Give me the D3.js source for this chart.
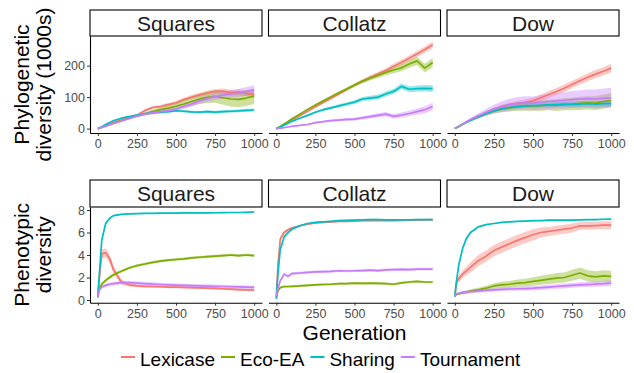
<!DOCTYPE html>
<html>
<head>
<meta charset="utf-8">
<script src="https://cdn.jsdelivr.net/npm/d3@7"></script>
<style>
  body { margin: 0; background: #fff; }
  text { font-family: "Liberation Sans", Arial, sans-serif; }
</style>
</head>
<body>
<div id="chart"></div>
<script>
// generations sampled (shared by every series)
const gens = [0,10,25,50,75,100,150,200,250,300,350,400,450,500,550,600,650,700,750,800,850,900,950,1000];
const methods = ["Lexicase", "Eco-EA", "Sharing", "Tournament"];
const problems = ["Squares", "Collatz", "Dow"];
const colors = ["#F8766D", "#7CAE00", "#00BFC4", "#C77CFF"];
const genTicks = [0, 250, 500, 750, 1000];
const phyloTicks = [0, 100, 200];
const phenoTicks = [0, 2, 4, 6, 8];

// Phylogenetic diversity (1000s), rows in methods order
const squaresPhyloMean = [
  [0,1.5,4,9,14,19,28,35,42,57,67,70,76,82,92,100,107,113,118,119,114,116,112,108],
  [0,1.5,4,8,12,16,25,33,40,47,54,60,65,71,78,86,94,99,102,98,94,93,97,103],
  [0,2,6,13,19,25,33,38,43,47,50,52,54,57,55,53,52,54,52,54,55,56,58,59],
  [0,1.5,4,8,12,16,24,32,40,46,50,54,57,62,70,78,88,95,102,106,110,113,118,123]
];
const squaresPhyloSE = [
  [0,0.5,1,1.5,2,2.5,3,3.5,4,4.5,5,5,5.5,6,6,7,7,8,8,8,9,9,9,10],
  [0,0.5,1,1.5,2,2.5,3,4,4,5,6,7,8,10,12,14,16,18,20,22,24,25,25,25],
  [0,0.3,0.8,1.2,1.5,2,2.5,3,3,3.5,3.5,4,4,4,4,4,4,4,4.5,4.5,4.5,4.5,5,5],
  [0,0.5,1,1.5,2,2.5,3,4,4.5,5,5.5,6,7,7,8,9,10,10,11,11,12,13,14,15]
];
const collatzPhyloMean = [
  [0,2,6,13,20,27,41,55,69,83,96,110,124,138,150,162,173,184,198,210,223,237,251,266],
  [0,2.5,7,15,23,31,46,61,75,88,101,114,126,138,150,160,169,178,186,193,205,215,192,210],
  [0,1.5,5,11,17,23,33,42,52,60,66,72,78,84,94,97,100,110,118,134,125,127,128,127],
  [0,0.5,1.5,3,5,7,10,13,19,22,25,27,29,30,34,38,42,46,39,43,48,54,60,70]
];
const collatzPhyloSE = [
  [0,0.3,0.6,1,1.3,1.6,2,2.5,3,3.5,4,4.5,5,5.5,6,6.5,7,7.5,8,8.5,9,9.5,10,10.5],
  [0,0.3,0.6,1,1.3,1.6,2,2.5,3,3.5,4,4.5,5,5.5,6,7,8,9,10,11,12,13,14,15],
  [0,0.3,0.6,1,1.5,2,2.5,3,3.5,4,4.5,5,5.5,6,6.5,7,7.5,8,8.5,9,9.5,10,10.5,11],
  [0,0.2,0.4,0.8,1,1.3,1.8,2.2,2.6,3,3.5,4,4.5,5,5.5,6,6.5,7,7.5,8,9,10,11,12]
];
const dowPhyloMean = [
  [0,3,7,14,21,28,40,52,62,70,76,80,83,88,98,108,118,128,140,152,163,173,182,192],
  [0,3,7,14,20,26,37,47,56,62,66,70,71,72,73,75,74,77,78,80,82,81,86,90],
  [0,3,7,14,20,26,37,47,56,63,67,70,72,73,74,75,76,77,77,78,79,78,79,80],
  [0,3,7.5,15,22,29,41,52,62,70,76,80,82,80,84,86,88,90,92,94,95,94,96,98]
];
const dowPhyloSE = [
  [0,0.5,1,1.5,2,2.5,3,4,5,6,7,8,9,10,10,11,11,12,12,12,13,13,13,14],
  [0,0.5,1,1.5,2,3,4,6,8,10,12,13,14,15,16,17,18,19,20,21,21,22,22,22],
  [0,0.5,1,1.5,2,2.5,3,4,4.5,5,5.5,6,6.5,7,7,7.5,7.5,8,8,8.5,8.5,9,9,9],
  [0,0.5,1,2,3,5,8,11,14,17,19,20,21,22,23,24,25,26,27,28,29,30,31,32]
];

// Phenotypic diversity, rows in methods order
const squaresPhenoMean = [
  [0.2,2.0,4.1,4.2,3.7,2.7,1.6,1.35,1.25,1.22,1.2,1.18,1.15,1.15,1.12,1.1,1.08,1.05,1.03,1.0,0.97,0.93,0.9,0.87],
  [0.3,1.0,1.4,1.75,2.0,2.25,2.55,2.85,3.05,3.2,3.35,3.45,3.55,3.6,3.65,3.75,3.8,3.85,3.9,3.95,4.0,3.95,4.0,3.95],
  [0.3,2.3,5.3,6.8,7.25,7.5,7.62,7.66,7.68,7.7,7.7,7.72,7.72,7.73,7.74,7.74,7.75,7.75,7.76,7.77,7.78,7.78,7.8,7.83],
  [0.3,0.9,1.15,1.3,1.4,1.45,1.55,1.55,1.5,1.45,1.42,1.38,1.35,1.32,1.3,1.28,1.26,1.24,1.22,1.2,1.18,1.16,1.15,1.12]
];
const squaresPhenoSE = [
  [0.05,0.3,0.4,0.4,0.4,0.35,0.25,0.15,0.12,0.1,0.1,0.1,0.1,0.1,0.1,0.1,0.1,0.1,0.1,0.1,0.1,0.1,0.1,0.1],
  [0.05,0.15,0.15,0.15,0.15,0.15,0.12,0.12,0.12,0.12,0.12,0.12,0.12,0.12,0.12,0.12,0.12,0.12,0.12,0.12,0.12,0.12,0.12,0.12],
  [0.05,0.2,0.2,0.15,0.1,0.08,0.06,0.05,0.05,0.05,0.05,0.05,0.05,0.05,0.05,0.05,0.05,0.05,0.05,0.05,0.05,0.05,0.05,0.05],
  [0.05,0.15,0.15,0.15,0.15,0.15,0.15,0.15,0.15,0.15,0.15,0.15,0.15,0.15,0.15,0.15,0.15,0.15,0.15,0.15,0.15,0.15,0.15,0.15]
];
const collatzPhenoMean = [
  [0.2,3.0,5.4,6.0,6.25,6.4,6.6,6.75,6.85,6.9,6.95,7.0,7.0,7.02,7.05,7.05,7.08,7.05,7.05,7.08,7.1,7.1,7.12,7.15],
  [0.2,0.8,1.1,1.2,1.2,1.22,1.25,1.3,1.35,1.38,1.4,1.45,1.45,1.5,1.48,1.5,1.48,1.45,1.4,1.52,1.6,1.65,1.6,1.6],
  [0.1,2.2,4.5,5.6,6.0,6.3,6.6,6.8,6.9,6.95,7.0,7.05,7.08,7.1,7.12,7.15,7.15,7.13,7.12,7.12,7.13,7.14,7.15,7.15],
  [0.3,1.0,1.7,2.3,2.1,2.35,2.4,2.45,2.5,2.52,2.55,2.6,2.58,2.6,2.62,2.65,2.62,2.68,2.7,2.72,2.7,2.75,2.75,2.75]
];
const collatzPhenoSE = [
  [0.05,0.2,0.2,0.15,0.12,0.1,0.08,0.08,0.08,0.08,0.08,0.08,0.08,0.08,0.08,0.08,0.08,0.08,0.08,0.08,0.08,0.08,0.08,0.08],
  [0.05,0.1,0.1,0.1,0.1,0.1,0.1,0.1,0.1,0.1,0.1,0.1,0.1,0.1,0.1,0.1,0.1,0.1,0.1,0.1,0.1,0.1,0.1,0.1],
  [0.05,0.2,0.2,0.15,0.12,0.1,0.08,0.08,0.08,0.08,0.08,0.08,0.08,0.08,0.08,0.08,0.08,0.08,0.08,0.08,0.08,0.08,0.08,0.08],
  [0.05,0.15,0.15,0.15,0.12,0.12,0.12,0.12,0.12,0.12,0.12,0.12,0.12,0.12,0.12,0.12,0.12,0.12,0.12,0.12,0.12,0.12,0.12,0.12]
];
const dowPhenoMean = [
  [0.3,1.5,1.9,2.3,2.6,2.9,3.5,3.9,4.4,4.7,5.0,5.3,5.55,5.8,6.0,6.1,6.2,6.3,6.4,6.6,6.6,6.62,6.65,6.65],
  [0.3,0.5,0.55,0.65,0.7,0.8,0.9,1.05,1.25,1.35,1.4,1.5,1.55,1.65,1.75,1.85,1.95,2.0,2.2,2.4,2.15,2.05,2.15,2.1],
  [0.3,1.6,3.1,4.6,5.5,6.0,6.5,6.7,6.8,6.9,6.95,7.0,7.02,7.05,7.05,7.1,7.1,7.1,7.1,7.12,7.15,7.15,7.18,7.2],
  [0.3,0.55,0.6,0.65,0.7,0.75,0.8,0.85,0.9,0.95,0.98,1.0,1.02,1.05,1.1,1.15,1.2,1.25,1.3,1.35,1.38,1.42,1.45,1.5]
];
const dowPhenoSE = [
  [0.1,0.2,0.3,0.35,0.4,0.45,0.5,0.5,0.5,0.5,0.5,0.5,0.5,0.5,0.45,0.4,0.4,0.4,0.4,0.35,0.35,0.35,0.35,0.35],
  [0.05,0.1,0.1,0.12,0.15,0.15,0.2,0.22,0.25,0.28,0.3,0.32,0.35,0.38,0.4,0.42,0.45,0.45,0.48,0.5,0.5,0.5,0.5,0.5],
  [0.05,0.15,0.2,0.2,0.15,0.1,0.08,0.06,0.05,0.05,0.05,0.05,0.05,0.05,0.05,0.05,0.05,0.05,0.05,0.05,0.05,0.05,0.05,0.05],
  [0.05,0.1,0.12,0.15,0.15,0.15,0.15,0.15,0.15,0.15,0.15,0.18,0.18,0.2,0.2,0.2,0.2,0.22,0.22,0.22,0.22,0.25,0.25,0.25]
];

const W = 634, H = 373;
const panelLefts = [90, 268.5, 447], panelW = 172;

const svg = d3.select("#chart").append("svg")
  .attr("width", W).attr("height", H);
svg.append("rect").attr("width", W).attr("height", H).attr("fill", "#fff");

const rows = [
  { stripTop: 10, top: 36, bottom: 133, yDomain: [-14, 294], ticks: phyloTicks,
    means: [squaresPhyloMean, collatzPhyloMean, dowPhyloMean],
    ses: [squaresPhyloSE, collatzPhyloSE, dowPhyloSE],
    title: ["Phylogenetic", "diversity (1000s)"] },
  { stripTop: 180, top: 207, bottom: 302.7, yDomain: [-0.24, 8.27], ticks: phenoTicks,
    means: [squaresPhenoMean, collatzPhenoMean, dowPhenoMean],
    ses: [squaresPhenoSE, collatzPhenoSE, dowPhenoSE],
    title: ["Phenotypic", "diversity"] }
];

rows.forEach(function(row) {
  const y = d3.scaleLinear().domain(row.yDomain).range([row.bottom, row.top]);

  problems.forEach(function(prob, p) {
    const left = panelLefts[p];
    const x = d3.scaleLinear().domain([-50, 1050]).range([left, left + panelW]);
    const g = svg.append("g");

    // ribbons first, then lines
    const area = d3.area()
      .x(function(d) { return x(d.g); })
      .y0(function(d) { return y(d.m - d.s); })
      .y1(function(d) { return y(d.m + d.s); });
    const line = d3.line()
      .x(function(d) { return x(d.g); })
      .y(function(d) { return y(d.m); });

    const series = methods.map(function(m, i) {
      return gens.map(function(gv, j) {
        return { g: gv, m: row.means[p][i][j], s: row.ses[p][i][j] };
      });
    });

    g.selectAll(".rib").data(series).join("path")
      .attr("class", "rib")
      .attr("d", area)
      .attr("fill", function(d, i) { return colors[i]; })
      .attr("fill-opacity", 0.38);
    g.selectAll(".ln").data(series).join("path")
      .attr("class", "ln")
      .attr("d", line)
      .attr("fill", "none")
      .attr("stroke", function(d, i) { return colors[i]; })
      .attr("stroke-width", 1.7)
      .attr("stroke-linejoin", "round");

    // x axis
    const xa = svg.append("g")
      .attr("transform", `translate(0, ${row.bottom})`)
      .call(d3.axisBottom(x).tickValues(genTicks).tickFormat(d3.format("d"))
        .tickSize(3).tickSizeOuter(0).tickPadding(3));
    xa.select(".domain").attr("stroke", "#000").attr("stroke-width", 1.1);
    xa.selectAll(".tick line").attr("stroke", "#333");
    xa.selectAll(".tick text").attr("fill", "#4d4d4d")
      .style("font-size", "12.5px").style("font-family", "'Liberation Sans', Arial, sans-serif");

    if (p === 0) {
      const ya = svg.append("g")
        .attr("transform", `translate(${left}, 0)`)
        .call(d3.axisLeft(y).tickValues(row.ticks).tickFormat(d3.format("d"))
          .tickSize(3).tickSizeOuter(0).tickPadding(2));
      ya.select(".domain").attr("stroke", "#000").attr("stroke-width", 1.1);
      ya.selectAll(".tick line").attr("stroke", "#333");
      ya.selectAll(".tick text").attr("fill", "#4d4d4d")
        .style("font-size", "12.5px").style("font-family", "'Liberation Sans', Arial, sans-serif");
    }

    // strip
    svg.append("rect")
      .attr("x", left).attr("y", row.stripTop)
      .attr("width", panelW).attr("height", row.top - row.stripTop)
      .attr("fill", "#fff").attr("stroke", "#000").attr("stroke-width", 1.1);
    svg.append("text")
      .attr("x", left + panelW / 2).attr("y", row.stripTop + 21)
      .attr("text-anchor", "middle")
      .style("font-size", "21px").attr("fill", "#1a1a1a")
      .text(prob);
  });

  // y title
  const cy = (row.top + row.bottom) / 2;
  row.title.forEach(function(t, k) {
    svg.append("text")
      .attr("transform", `translate(${29 + k * 22}, ${cy}) rotate(-90)`)
      .attr("text-anchor", "middle")
      .style("font-size", "21px").attr("fill", "#000")
      .text(t);
  });
});

// x title
svg.append("text")
  .attr("x", 354.5).attr("y", 340)
  .attr("text-anchor", "middle")
  .style("font-size", "21px").attr("fill", "#000")
  .text("Generation");

// legend
let lx = 121;
methods.forEach(function(m, i) {
  svg.append("line")
    .attr("x1", lx).attr("x2", lx + 14)
    .attr("y1", 357).attr("y2", 357)
    .attr("stroke", colors[i]).attr("stroke-width", 2);
  const t = svg.append("text")
    .attr("x", lx + 19).attr("y", 366)
    .style("font-size", "19px").attr("fill", "#000")
    .text(m);
  lx += 19 + t.node().getComputedTextLength() + 6;
});
</script>
</body>
</html>
